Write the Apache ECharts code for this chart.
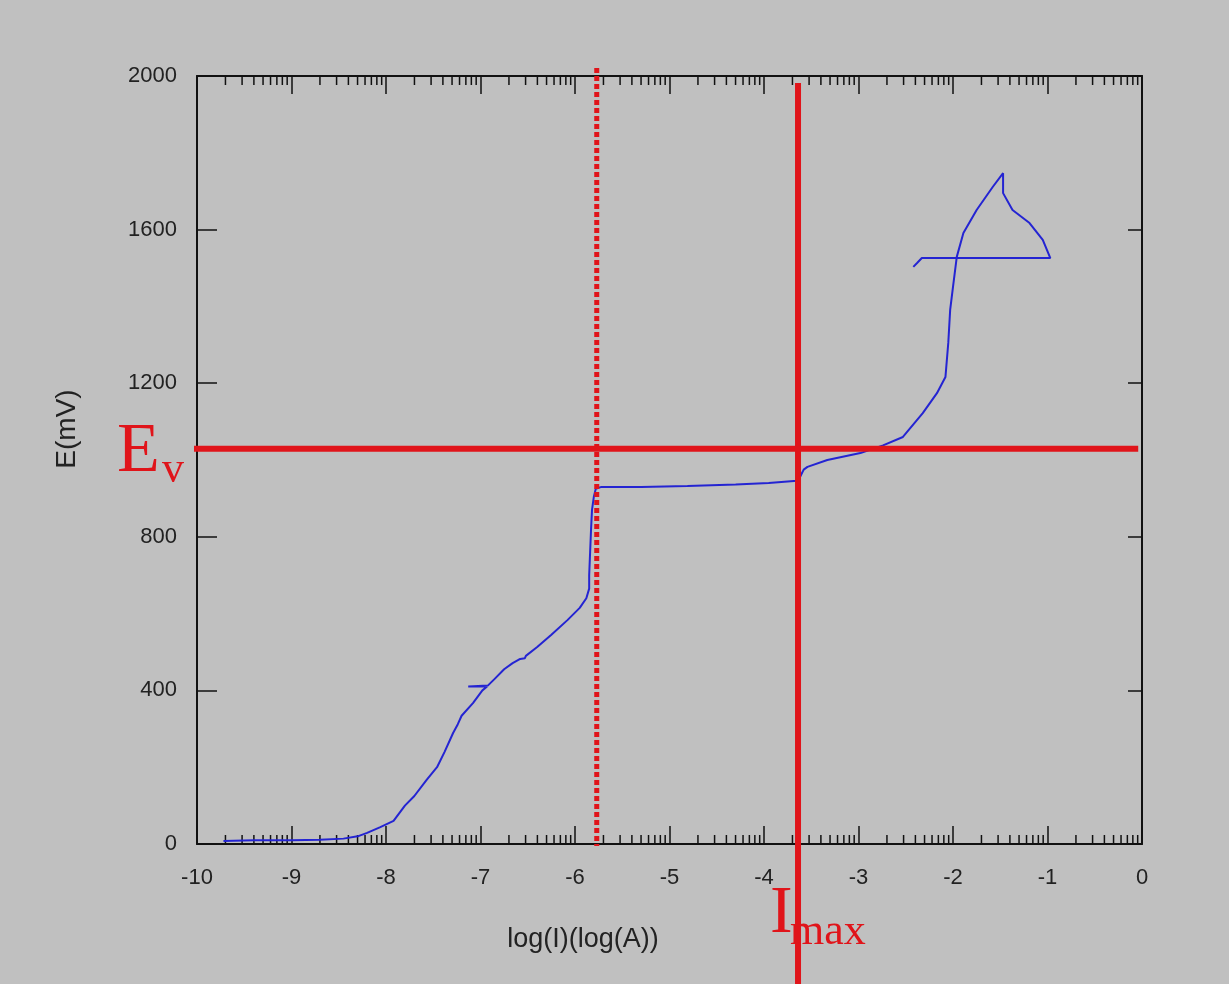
<!DOCTYPE html>
<html>
<head>
<meta charset="utf-8">
<script src="https://cdn.jsdelivr.net/npm/echarts@6/dist/echarts.min.js"></script>
<style>
html,body{margin:0;padding:0;background:#c0c0c0;}
#main{width:1229px;height:984px;}
</style>
</head>
<body>
<div id="main"></div>
<script>
// ---- data ----
var xTicks = [-10, -9, -8, -7, -6, -5, -4, -3, -2, -1, 0];
var yTicks = [0, 400, 800, 1200, 1600, 2000];
var xTitle = 'log(I)(log(A))';
var yTitle = 'E(mV)';
var curveLogI = [-9.72,-9.40,-9.00,-8.70,-8.45,-8.30,-8.20,-8.06,-7.92,-7.80,-7.70,-7.57,-7.46,-7.38,-7.29,-7.24,-7.26,-7.20,-7.08,-6.98,-6.93,-7.13,-7.13,-6.92,-6.85,-6.75,-6.66,-6.58,-6.53,-6.52,-6.40,-6.25,-6.08,-5.95,-5.88,-5.85,-5.85,-5.84,-5.83,-5.82,-5.80,-5.78,-5.72,-5.30,-4.81,-4.30,-3.95,-3.65,-3.62,-3.58,-3.54,-3.33,-2.98,-2.74,-2.53,-2.32,-2.17,-2.08,-2.05,-2.03,-2.00,-1.96,-1.89,-1.75,-1.58,-1.47,-1.47,-1.37,-1.19,-1.05,-0.97,-2.33,-2.38,-2.42];
var curveE    = [8,10,10,11,14,20,29,44,60,100,125,167,200,240,289,312,316,334,367,400,410,410,413,413,430,455,471,482,484,490,513,545,583,615,640,665,700,760,820,870,905,925,930,930,932,936,940,946,955,975,982,1000,1018,1038,1060,1122,1174,1216,1305,1391,1451,1529,1591,1651,1711,1747,1695,1651,1617,1573,1526,1526,1513,1503];
var dottedLineX = [[-5.77, 2021], [-5.77, -5]];
var imaxLineX   = [[-3.64, 1982], [-3.64, -365]];
var evLineE     = [[-11.06, 1029], [-0.04, 1029]];
var minorTicks = [];
for (var d = -10; d < 0; d++) {
  for (var k = 2; k <= 9; k++) minorTicks.push(d + Math.log10(k));
}

var curve = curveLogI.map(function (x, i) { return [x, curveE[i]]; });

var chart = echarts.init(document.getElementById('main'));
var axisTxt = {color: '#222', fontFamily: 'Liberation Sans', fontSize: 22, formatter: function (v) { return String(v); }};
var red = '#e0141a';
var option = {
  backgroundColor: '#c0c0c0',
  animation: false,
  grid: {left: 197, right: 87, top: 76, bottom: 140, show: false},
  xAxis: [{
    type: 'value', min: -10, max: 0, interval: 1, position: 'bottom',
    axisLine: {onZero: false, lineStyle: {color: '#111', width: 2}},
    axisTick: {inside: true, length: 18, lineStyle: {color: '#111', width: 1.5}},
    axisLabel: Object.assign({margin: 23}, axisTxt),
    splitLine: {show: false}
  }, {
    type: 'value', min: -10, max: 0, interval: 1, position: 'top',
    axisLine: {onZero: false, lineStyle: {color: '#111', width: 2}},
    axisTick: {inside: true, length: 18, lineStyle: {color: '#111', width: 1.5}},
    axisLabel: {show: false}, splitLine: {show: false}
  }],
  yAxis: [{
    type: 'value', min: 0, max: 2000, interval: 400, position: 'left',
    axisLine: {onZero: false, lineStyle: {color: '#111', width: 2}},
    axisTick: {inside: true, length: 20, lineStyle: {color: '#111', width: 1.5}},
    axisLabel: Object.assign({margin: 20}, axisTxt),
    splitLine: {show: false}
  }, {
    type: 'value', min: 0, max: 2000, interval: 400, position: 'right',
    axisLine: {onZero: false, lineStyle: {color: '#111', width: 2}},
    axisTick: {inside: true, length: 14, lineStyle: {color: '#111', width: 1.5}},
    axisLabel: {show: false}, splitLine: {show: false}
  }],
  series: [{
    type: 'custom', xAxisIndex: 0, yAxisIndex: 0, silent: true, clip: false,
    data: minorTicks,
    renderItem: function (params, api) {
      var x = api.value(0);
      var b = api.coord([x, 0]);
      var t = api.coord([x, 2000]);
      var st = {stroke: '#111', lineWidth: 1.5};
      return {type: 'group', children: [
        {type: 'line', shape: {x1: b[0], y1: b[1], x2: b[0], y2: b[1] - 9}, style: st},
        {type: 'line', shape: {x1: t[0], y1: t[1], x2: t[0], y2: t[1] + 9}, style: st}
      ]};
    },
    encode: {x: 0}
  }, {
    type: 'line', data: curve, showSymbol: false, symbol: 'none', clip: false,
    lineStyle: {color: '#2424d2', width: 2}, z: 3
  }, {
    type: 'line', data: dottedLineX, showSymbol: false, symbol: 'none', clip: false,
    lineStyle: {color: red, width: 5, type: [5, 3]}, z: 4
  }, {
    type: 'line', data: imaxLineX, showSymbol: false, symbol: 'none', clip: false,
    lineStyle: {color: red, width: 6}, z: 4
  }, {
    type: 'line', data: evLineE, showSymbol: false, symbol: 'none', clip: false,
    lineStyle: {color: red, width: 6}, z: 4
  }],
  graphic: [
    {type: 'text', x: 583, y: 940, z: 10, style: {text: xTitle, fill: '#222', font: '27px "Liberation Sans"', align: 'center', verticalAlign: 'middle'}},
    {type: 'text', x: 67, y: 429, rotation: Math.PI / 2, z: 10, style: {text: yTitle, fill: '#222', font: '28px "Liberation Sans"', align: 'center', verticalAlign: 'middle'}},
    {type: 'text', left: 117, top: 418, z: 10, style: {text: 'E', fill: red, font: '70px "Liberation Serif"'}},
    {type: 'text', left: 162, top: 448, z: 10, style: {text: 'v', fill: red, font: '44px "Liberation Serif"'}},
    {type: 'text', left: 770, top: 880, z: 10, style: {text: 'I', fill: red, font: '68px "Liberation Serif"'}},
    {type: 'text', left: 790, top: 910, z: 10, style: {text: 'max', fill: red, font: '44px "Liberation Serif"'}}
  ]
};
chart.setOption(option);
</script>
</body>
</html>
